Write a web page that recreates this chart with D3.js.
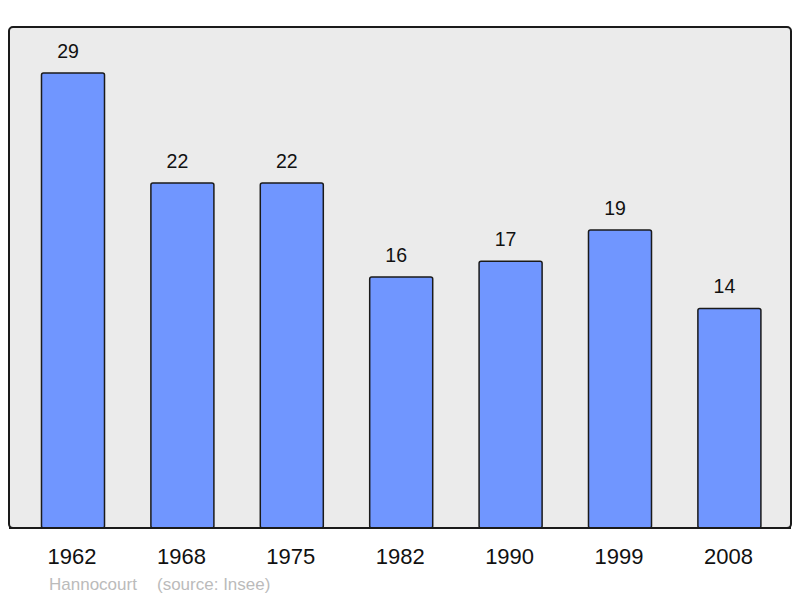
<!DOCTYPE html>
<html>
<head>
<meta charset="utf-8">
<script src="https://cdn.jsdelivr.net/npm/d3@7"></script>
<style>
  body { margin: 0; background: #fff; }
  text { font-family: "Liberation Sans", Arial, sans-serif; }
</style>
</head>
<body>
<div id="chart"></div>
<script>
// data
const years = ["1962", "1968", "1975", "1982", "1990", "1999", "2008"];
const population = [29, 22, 22, 16, 17, 19, 14];
const commune = "Hannocourt";
const source = "(source: Insee)";

const w = 800;
const h = 598;

let svg = d3.select("#chart")
  .append("svg")
  .attr("width", w)
  .attr("height", h);

// grey panel
svg.append("rect")
  .attr("x", 9)
  .attr("y", 27)
  .attr("width", 782)
  .attr("height", 501)
  .attr("rx", 4)
  .attr("fill", "#ebebeb")
  .attr("stroke", "#1a1a1a")
  .attr("stroke-width", 2);

let x = d3.scaleBand()
  .domain(years)
  .range([18.3, 784.1])
  .paddingInner(0.424)
  .paddingOuter(0.212);

let y = d3.scaleLinear()
  .domain([0, 32])
  .range([528, 26]);

svg.selectAll("rect.bar")
  .data(population)
  .enter().append("rect")
  .attr("class", "bar")
  .attr("x", (d, i) => x(years[i]))
  .attr("y", d => y(d))
  .attr("width", x.bandwidth())
  .attr("height", d => y(0) - y(d))
  .attr("rx", 2)
  .attr("fill", "#7096ff")
  .attr("stroke", "#1a1a1a")
  .attr("stroke-width", 1.5);

// value labels (sit a little left of bar centre in the original)
svg.selectAll("text.val")
  .data(population)
  .enter().append("text")
  .attr("class", "val")
  .attr("x", (d, i) => x(years[i]) + x.bandwidth() / 2 - 5)
  .attr("y", d => y(d) - 15)
  .attr("text-anchor", "middle")
  .attr("font-size", 19.5)
  .attr("fill", "#111")
  .text(d => d);

// redraw bottom edge of panel over bars
svg.append("line")
  .attr("x1", 9).attr("x2", 791)
  .attr("y1", 528).attr("y2", 528)
  .attr("stroke", "#1a1a1a")
  .attr("stroke-width", 2);

// year axis
let axis = svg.append("g")
  .attr("transform", "translate(-1,528)")
  .call(d3.axisBottom(x).tickSize(0).tickPadding(36));
axis.select(".domain").remove();
axis.selectAll("text")
  .attr("font-size", 22)
  .attr("fill", "#111")
  .attr("dy", 0)
  .style("font-family", "'Liberation Sans', Arial, sans-serif");

svg.append("text")
  .attr("x", 49)
  .attr("y", 590)
  .attr("font-size", 17)
  .attr("fill", "#bbbbbb")
  .text(commune);

svg.append("text")
  .attr("x", 157)
  .attr("y", 590)
  .attr("font-size", 17)
  .attr("fill", "#bbbbbb")
  .text(source);
</script>
</body>
</html>
